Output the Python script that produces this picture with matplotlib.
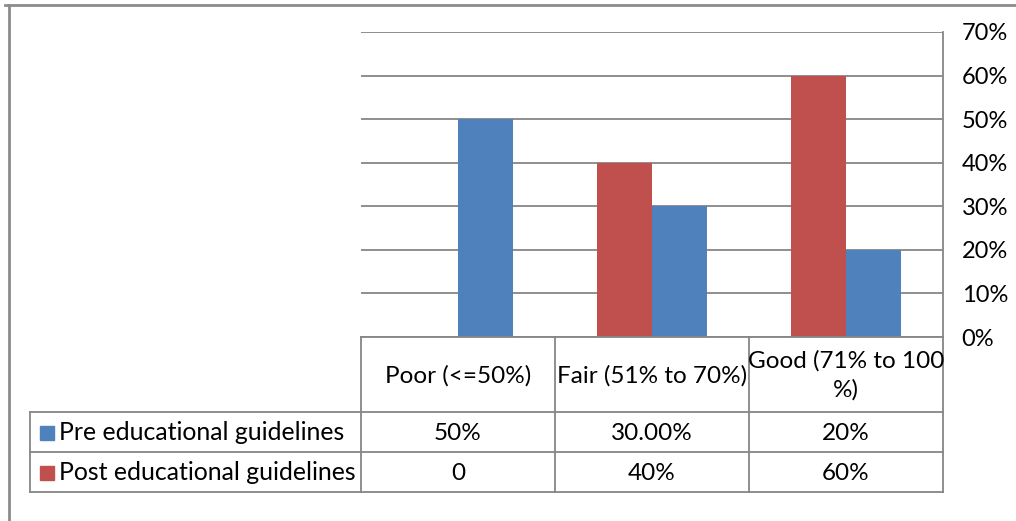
import numpy as np
import matplotlib.pyplot as plt
from matplotlib.lines import Line2D
from matplotlib.patches import Rectangle

# -----------------------------
# Data
# -----------------------------
categories = ["Poor (<=50%)", "Fair (51% to 70%)", "Good (71% to 100\n%)"]
series_names = ["Pre educational guidelines", "Post educational guidelines"]
pre_values = [50, 30, 20]
post_values = [0, 40, 60]
pre_labels = ["50%", "30.00%", "20%"]
post_labels = ["0", "40%", "60%"]
y_ticks = [0, 10, 20, 30, 40, 50, 60, 70]

blue = "#4F81BD"
red = "#C0504D"
grid_col = "#868686"

plt.rcParams["font.family"] = ["Lato", "DejaVu Sans"]

W, H = 1016, 521
fig = plt.figure(figsize=(W / 100, H / 100), dpi=100)


def fx(x):
    return x / W


def fy(y):
    return 1 - y / H


def hline(x0, x1, y, lw=1.3, color=grid_col):
    fig.add_artist(Line2D([fx(x0), fx(x1)], [fy(y), fy(y)], transform=fig.transFigure,
                          color=color, lw=lw))


def vline(x, y0, y1, lw=1.3, color=grid_col):
    fig.add_artist(Line2D([fx(x), fx(x)], [fy(y0), fy(y1)], transform=fig.transFigure,
                          color=color, lw=lw))


# plot area in pixels
left, right, top, bottom = 361, 943, 32, 337
ax = fig.add_axes([fx(left), fy(bottom), fx(right - left), (bottom - top) / H])

x = np.arange(len(categories))
w = 0.286
ax.bar(x - w / 2, post_values, w, color=red, zorder=3)
ax.bar(x + w / 2, pre_values, w, color=blue, zorder=3)

ax.set_xlim(-0.5, 2.5)
ax.set_ylim(0, 70)
ax.set_yticks(y_ticks)
ax.set_yticklabels([f"{t}%" for t in y_ticks])
ax.yaxis.tick_right()
ax.tick_params(axis="y", length=0, pad=13.5, labelsize=17, colors="#000000")
ax.set_xticks([])
ax.grid(axis="y", color=grid_col, lw=1.3, zorder=0)
for s in ["left", "top", "bottom"]:
    ax.spines[s].set_visible(False)
ax.spines["right"].set_color(grid_col)
ax.spines["right"].set_linewidth(1.3)

# -----------------------------
# Data table below the chart
# -----------------------------
cols = [361, 555, 749, 943]
head_bot = 412
row_mid = 452
row_bot = 492
label_left = 30
fs = 17.5

hline(361, 943, bottom)
hline(label_left, 943, head_bot)
hline(label_left, 943, row_mid)
hline(label_left, 943, row_bot)
for c in cols:
    vline(c, bottom, row_bot)
vline(label_left, head_bot, row_bot)

for i, cat in enumerate(categories):
    cx = (cols[i] + cols[i + 1]) / 2
    fig.text(fx(cx), fy((bottom + head_bot) / 2 + 1), cat, ha="center", va="center",
             fontsize=fs, linespacing=1.4)
    fig.text(fx(cx), fy((head_bot + row_mid) / 2 + 1), pre_labels[i], ha="center",
             va="center", fontsize=fs)
    fig.text(fx(cx), fy((row_mid + row_bot) / 2 + 1), post_labels[i], ha="center",
             va="center", fontsize=fs)

for j, (name, col) in enumerate(zip(series_names, [blue, red])):
    yc = (head_bot + row_mid) / 2 if j == 0 else (row_mid + row_bot) / 2
    fig.add_artist(Rectangle((fx(40), fy(yc + 8)), fx(14), 14 / H, color=col,
                             transform=fig.transFigure))
    fig.text(fx(59), fy(yc + 1), name, ha="left", va="center", fontsize=17.9)

# outer chart border
hline(5, W, 5, lw=2, color="#8C8C8C")
vline(9, 5, H, lw=2, color="#8C8C8C")

fig.savefig("out.png", dpi=100)
